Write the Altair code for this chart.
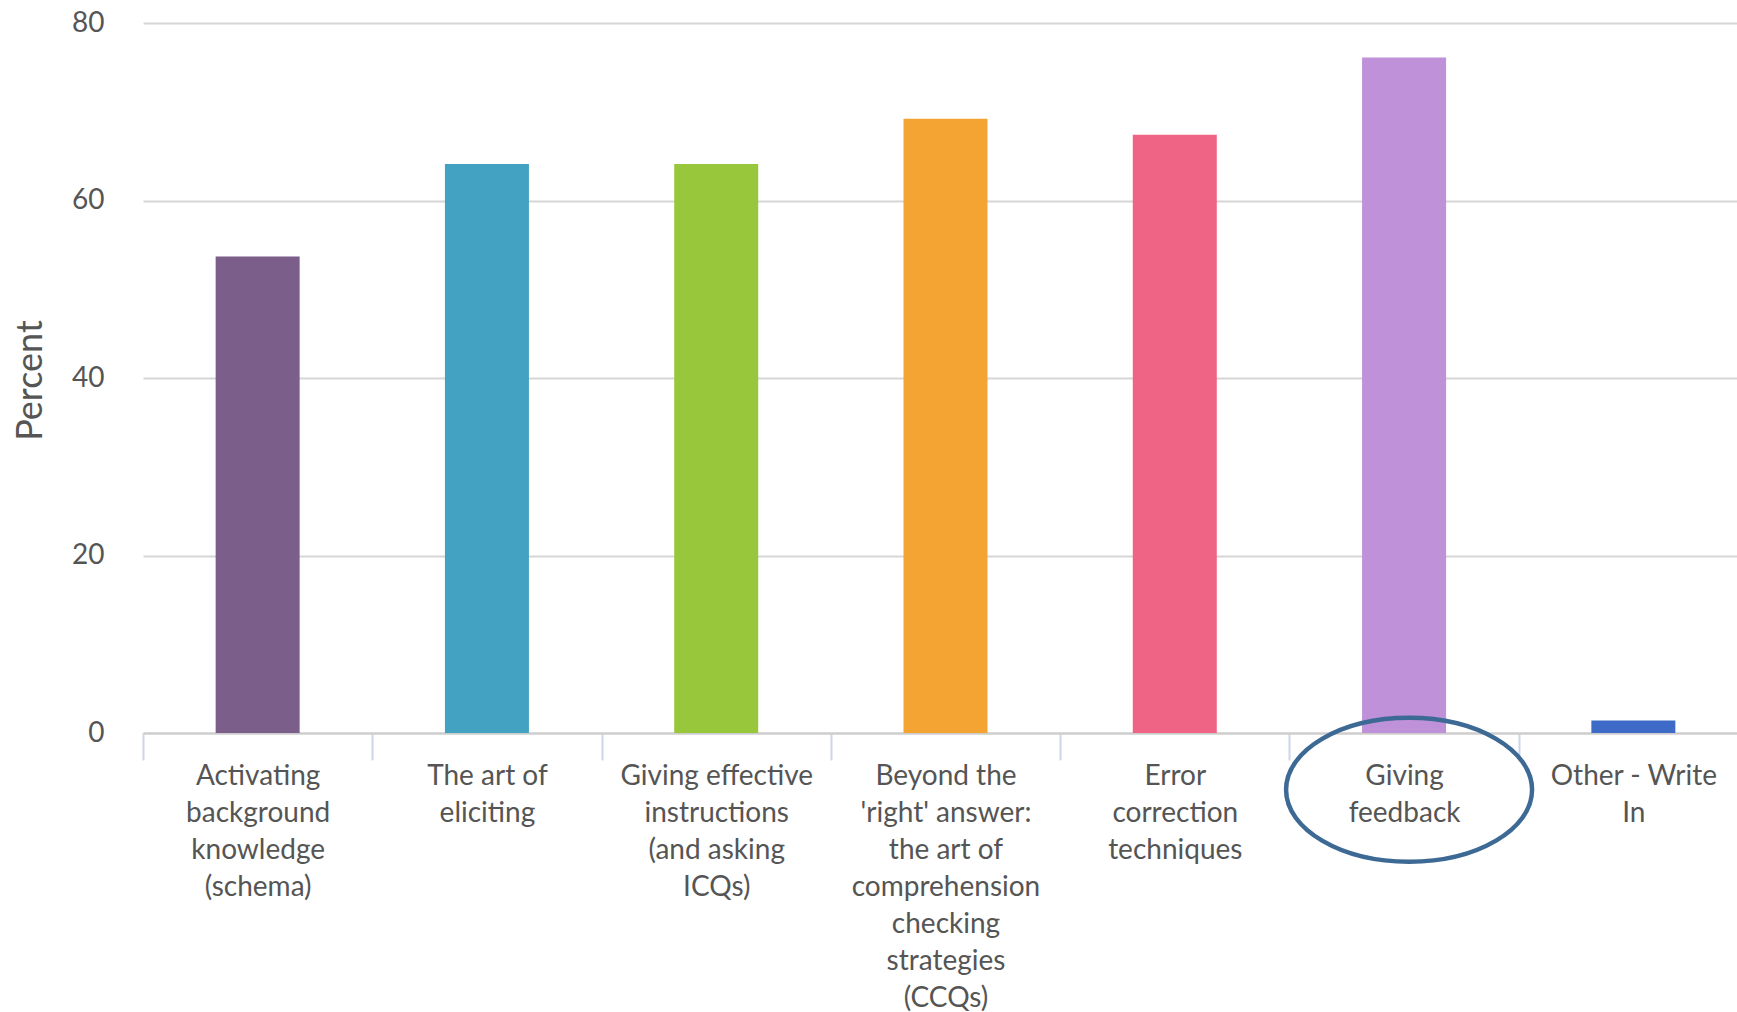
import altair as alt
import pandas as pd

# Survey topics (line breaks mark how each axis label wraps)
CATEGORIES = [
    "Activating\nbackground\nknowledge\n(schema)",
    "The art of\neliciting",
    "Giving effective\ninstructions\n(and asking\nICQs)",
    "Beyond the\n'right' answer:\nthe art of\ncomprehension\nchecking\nstrategies\n(CCQs)",
    "Error\ncorrection\ntechniques",
    "Giving\nfeedback",
    "Other - Write\nIn",
]
PERCENTS = [53.7, 64.1, 64.1, 69.2, 67.4, 76.1, 1.4]
COLORS = ["#7b5e8a", "#43a1c1", "#98c73c", "#f3a433", "#ef6384", "#bf91d9", "#3e6bc7"]

# Circled answer and where its ring sits (in percent units, below the baseline)
HIGHLIGHT = "Giving\nfeedback"
HIGHLIGHT_Y = -6.4

TEXT = "#555555"
FONT = "Lato"

bars_df = pd.DataFrame({"topic": CATEGORIES, "percent": PERCENTS})
ring_df = pd.DataFrame({"topic": [HIGHLIGHT], "percent": [HIGHLIGHT_Y]})

# Bands fill the whole step so the axis ticks fall between topics
x_scale = alt.Scale(domain=CATEGORIES, range=[0, 1605], paddingInner=0, paddingOuter=0)
y_scale = alt.Scale(domain=[0, 80], nice=False, zero=True)

x_axis = alt.Axis(
    title=None,
    labelExpr="split(datum.label, '\\n')",
    labelAngle=0,
    labelAlign="center",
    labelBaseline="top",
    labelPadding=2,
    labelFont=FONT,
    labelFontSize=28,
    labelColor=TEXT,
    labelLineHeight=37,
    labelLimit=400,
    tickBand="extent",
    tickSize=27,
    tickWidth=2,
    tickColor="#cdd6e6",
    domainColor="#cccccc",
    domainWidth=2,
    grid=False,
)

y_axis = alt.Axis(
    title="Percent",
    values=[0, 20, 40, 60, 80],
    ticks=False,
    domain=False,
    grid=True,
    gridColor="#d6d6d6",
    gridWidth=2,
    labelFont=FONT,
    labelFontSize=28,
    labelColor=TEXT,
    labelPadding=39,
    titleFont=FONT,
    titleFontSize=36,
    titleFontWeight="normal",
    titleColor=TEXT,
    titleAngle=-90,
    titleAlign="center",
    titleBaseline="middle",
    titleX=-113,
    titleY=357,
)

bars = alt.Chart(bars_df).mark_bar(width=84).encode(
    x=alt.X("topic:N", sort=CATEGORIES, scale=x_scale, axis=x_axis),
    y=alt.Y("percent:Q", scale=y_scale, axis=y_axis),
    color=alt.Color("topic:N", scale=alt.Scale(domain=CATEGORIES, range=COLORS), legend=None),
)

# Hand-drawn style ring around the highlighted answer: an ellipse symbol
ELLIPSE = (
    "M -1 0 C -1 -0.323 -0.5523 -0.585 0 -0.585 "
    "C 0.5523 -0.585 1 -0.323 1 0 "
    "C 1 0.323 0.5523 0.585 0 0.585 "
    "C -0.5523 0.585 -1 0.323 -1 0 Z"
)
ring = alt.Chart(ring_df).mark_point(
    shape=ELLIPSE,
    filled=False,
    size=60516,
    strokeWidth=4.5,
    color="#3d6995",
    opacity=1,
    xOffset=5,
).encode(
    x=alt.X("topic:N", sort=CATEGORIES, scale=x_scale),
    y=alt.Y("percent:Q", scale=y_scale),
)

chart = (
    alt.layer(bars, ring)
    .properties(
        width=1594,
        height=710,
        autosize=alt.AutoSizeParams(type="none"),
        padding={"left": 143, "top": 23, "right": 0, "bottom": 279},
        background="white",
    )
    .configure_view(stroke=None)
)

chart.save("out.html", embed_options={"renderer": "svg", "actions": False})
